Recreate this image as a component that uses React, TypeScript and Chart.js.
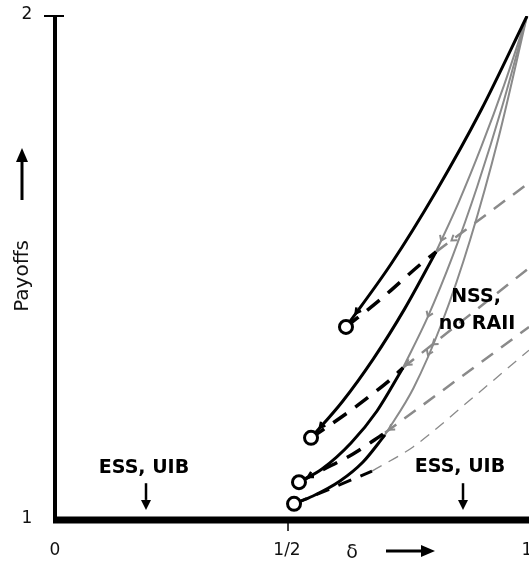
import React, { useEffect, useRef } from 'react';
import { Chart, registerables } from 'chart.js';

Chart.register(...registerables);

type Pt = { x: number; y: number };

// ---- axis ranges & ticks ----
const xMin = 0;
const xMax = 1.0042;
const yMin = 1;
const yMax = 2;
const xTickValues = [0, 0.5, 1];
const xTickLabels = ['0', '1/2', '1'];
const yTickValues = [1, 2];
const yTickLabels = ['1', '2'];
const xTitle = 'δ';
const yTitle = 'Payoffs';

// ---- open circles (starting points) ----
const circlePoints: Pt[] = [
  { x: 0.6165, y: 1.383 },
  { x: 0.5424, y: 1.163 },
  { x: 0.5169, y: 1.075 },
  { x: 0.5064, y: 1.032 },
];

// ---- black solid payoff curves ----
const solidA: Pt[] = [
  { x: 0.6165, y: 1.383 }, { x: 0.7119, y: 1.508 }, { x: 0.8072, y: 1.652 },
  { x: 0.9025, y: 1.813 }, { x: 1.0, y: 2.0 },
];
const solidB: Pt[] = [
  { x: 0.5424, y: 1.163 }, { x: 0.6086, y: 1.2346 }, { x: 0.6748, y: 1.3202 },
  { x: 0.741, y: 1.4194 }, { x: 0.8072, y: 1.532 },
];
const solidC: Pt[] = [
  { x: 0.5169, y: 1.075 }, { x: 0.5657, y: 1.1012 }, { x: 0.6271, y: 1.1528 },
  { x: 0.6822, y: 1.2163 }, { x: 0.7373, y: 1.302 },
];
const solidD: Pt[] = [
  { x: 0.5064, y: 1.032 }, { x: 0.5466, y: 1.0476 }, { x: 0.6038, y: 1.0774 },
  { x: 0.6525, y: 1.1151 }, { x: 0.6992, y: 1.169 },
];

// ---- grey solid continuations ----
const greyB: Pt[] = [
  { x: 0.8072, y: 1.532 }, { x: 0.8554, y: 1.6308 }, { x: 0.9036, y: 1.7416 },
  { x: 0.9518, y: 1.8639 }, { x: 1.0, y: 2.0 },
];
const greyC: Pt[] = [
  { x: 0.7373, y: 1.302 }, { x: 0.7898, y: 1.403 }, { x: 0.8424, y: 1.5234 },
  { x: 0.8949, y: 1.6627 }, { x: 0.9475, y: 1.8208 }, { x: 1.0, y: 2.0 },
];
const greyD: Pt[] = [
  { x: 0.6992, y: 1.169 }, { x: 0.7593, y: 1.2615 }, { x: 0.8195, y: 1.3909 },
  { x: 0.8797, y: 1.5567 }, { x: 0.9398, y: 1.7591 }, { x: 1.0, y: 2.0 },
];

// ---- black dashed lines ----
const dashA: Pt[] = [
  { x: 0.6165, y: 1.383 }, { x: 0.6886, y: 1.437 }, { x: 0.7775, y: 1.51 },
  { x: 0.8072, y: 1.532 },
];
const dashB: Pt[] = [
  { x: 0.5424, y: 1.163 }, { x: 0.6186, y: 1.212 }, { x: 0.678, y: 1.254 },
  { x: 0.7097, y: 1.278 }, { x: 0.7373, y: 1.302 },
];
const dashC: Pt[] = [
  { x: 0.5169, y: 1.075 }, { x: 0.5614, y: 1.097 }, { x: 0.6314, y: 1.131 },
  { x: 0.6992, y: 1.173 },
];
const dashD: Pt[] = [
  { x: 0.5064, y: 1.032 }, { x: 0.5784, y: 1.06 }, { x: 0.6716, y: 1.097 },
];

// ---- grey dashed continuations ----
const greyDashA: Pt[] = [{ x: 0.8072, y: 1.532 }, { x: 1.0042, y: 1.669 }];
const greyDashB: Pt[] = [{ x: 0.7373, y: 1.302 }, { x: 1.0042, y: 1.5 }];
const greyDashC: Pt[] = [{ x: 0.6992, y: 1.173 }, { x: 1.0042, y: 1.383 }];
const greyDashD: Pt[] = [
  { x: 0.6716, y: 1.097 }, { x: 0.7585, y: 1.145 }, { x: 0.8792, y: 1.238 },
  { x: 1.0042, y: 1.337 },
];

// ---- direction arrowheads along curves (curve, x position) ----
const greyChevrons: { curve: Pt[]; at: number }[] = [
  { curve: greyDashA, at: 0.84 },
  { curve: greyB, at: 0.818 },
  { curve: greyDashB, at: 0.745 },
  { curve: greyDashB, at: 0.8 },
  { curve: greyC, at: 0.79 },
  { curve: greyD, at: 0.79 },
  { curve: greyDashC, at: 0.708 },
];
const blackChevrons: { curve: Pt[]; at: number }[] = [
  { curve: solidA, at: 0.637 },
  { curve: solidB, at: 0.561 },
  { curve: solidC, at: 0.536 },
];

// ---- annotations (data units) ----
const labelTexts = ['ESS, UIB', 'ESS, UIB', 'NSS,', 'no RAII'];
const labelX = [0.1886, 0.858, 0.892, 0.894];
const labelY = [1.103, 1.105, 1.442, 1.389];
const downArrowX = [0.1928, 0.8644];
const downArrowTop = 1.073;
const downArrowBottom = 1.02;

const BLACK = '#000000';
const GREY = '#8a8a8a';

function line(data: Pt[], color: string, width: number, dash: number[], order: number) {
  return {
    data,
    borderColor: color,
    backgroundColor: color,
    borderWidth: width,
    borderDash: dash,
    borderCapStyle: 'butt',
    showLine: true,
    pointRadius: 0,
    pointHoverRadius: 0,
    cubicInterpolationMode: 'monotone',
    fill: false,
    order,
  };
}

function arrow(ctx: CanvasRenderingContext2D, x1: number, y1: number, x2: number, y2: number, w: number, head: number, hw: number) {
  const ang = Math.atan2(y2 - y1, x2 - x1);
  const bx = x2 - Math.cos(ang) * head;
  const by = y2 - Math.sin(ang) * head;
  ctx.lineWidth = w;
  ctx.beginPath();
  ctx.moveTo(x1, y1);
  ctx.lineTo(bx, by);
  ctx.stroke();
  ctx.beginPath();
  ctx.moveTo(x2, y2);
  ctx.lineTo(bx + Math.sin(ang) * hw, by - Math.cos(ang) * hw);
  ctx.lineTo(bx - Math.sin(ang) * hw, by + Math.cos(ang) * hw);
  ctx.closePath();
  ctx.fill();
}

function chevron(ctx: CanvasRenderingContext2D, xs: any, ys: any, curve: Pt[], at: number, len: number, spread: number) {
  let i = 0;
  while (i < curve.length - 2 && curve[i + 1].x < at) i++;
  const a = curve[i];
  const b = curve[i + 1];
  const t = (at - a.x) / (b.x - a.x);
  const px = xs.getPixelForValue(at);
  const py = ys.getPixelForValue(a.y + t * (b.y - a.y));
  const dx = xs.getPixelForValue(a.x) - xs.getPixelForValue(b.x);
  const dy = ys.getPixelForValue(a.y) - ys.getPixelForValue(b.y);
  const ang = Math.atan2(dy, dx); // pointing toward the start of the curve
  ctx.beginPath();
  ctx.moveTo(px - Math.cos(ang - spread) * len, py - Math.sin(ang - spread) * len);
  ctx.lineTo(px, py);
  ctx.lineTo(px - Math.cos(ang + spread) * len, py - Math.sin(ang + spread) * len);
  ctx.stroke();
}

const decor = {
  id: 'decor',
  afterDatasetsDraw(chart: any) {
    const { ctx, chartArea, scales } = chart;
    const xs = scales.x;
    const ys = scales.y;
    const x0 = xs.getPixelForValue(0);
    const yb = ys.getPixelForValue(1);
    const yt = ys.getPixelForValue(2);
    ctx.save();
    ctx.lineCap = 'butt';

    // arrowheads on curves
    ctx.strokeStyle = GREY;
    ctx.lineWidth = 2;
    greyChevrons.forEach((c) => chevron(ctx, xs, ys, c.curve, c.at, 6, 0.6));
    ctx.strokeStyle = BLACK;
    ctx.lineWidth = 2.5;
    blackChevrons.forEach((c) => chevron(ctx, xs, ys, c.curve, c.at, 6, 0.5));

    ctx.strokeStyle = BLACK;
    ctx.fillStyle = BLACK;
    // y axis
    ctx.lineWidth = 4;
    ctx.beginPath();
    ctx.moveTo(x0, yt);
    ctx.lineTo(x0, yb);
    ctx.stroke();
    // top tick
    ctx.lineWidth = 2;
    ctx.beginPath();
    ctx.moveTo(x0 - 11, yt);
    ctx.lineTo(x0 + 9, yt);
    ctx.stroke();
    // 1/2 tick
    ctx.lineWidth = 1.5;
    const xh = xs.getPixelForValue(0.5) - 3;
    ctx.beginPath();
    ctx.moveTo(xh, yb);
    ctx.lineTo(xh, yb + 11);
    ctx.stroke();
    // x axis
    ctx.lineWidth = 7;
    ctx.beginPath();
    ctx.moveTo(x0 - 2, yb);
    ctx.lineTo(chartArea.right + 2, yb);
    ctx.stroke();

    // tick labels
    ctx.font = '17px "DejaVu Sans", Verdana, sans-serif';
    ctx.textAlign = 'center';
    ctx.textBaseline = 'middle';
    ctx.fillStyle = '#111';
    xTickValues.forEach((v, i) => {
      const px = i === 1 ? xs.getPixelForValue(v) - 4 : xs.getPixelForValue(v);
      ctx.fillText(xTickLabels[i], px, yb + 31);
    });
    yTickValues.forEach((v, i) => {
      ctx.fillText(yTickLabels[i], x0 - 28, ys.getPixelForValue(v) - 1);
    });

    // axis titles
    ctx.font = '19px "DejaVu Sans", Verdana, sans-serif';
    ctx.fillText(xTitle, 352, yb + 33);
    ctx.fillStyle = BLACK;
    arrow(ctx, 386, yb + 31, 435, yb + 31, 3, 14, 6);
    ctx.save();
    ctx.translate(23, 276);
    ctx.rotate(-Math.PI / 2);
    ctx.fillStyle = '#111';
    ctx.font = '20px "DejaVu Sans", Verdana, sans-serif';
    ctx.fillText(yTitle, 0, 0);
    ctx.restore();
    ctx.fillStyle = BLACK;
    arrow(ctx, 22, 200, 22, 148, 3, 14, 6);

    // annotation labels
    ctx.font = 'bold 19px "DejaVu Sans", Verdana, sans-serif';
    ctx.fillStyle = BLACK;
    labelTexts.forEach((t, i) => {
      ctx.fillText(t, xs.getPixelForValue(labelX[i]), ys.getPixelForValue(labelY[i]));
    });
    downArrowX.forEach((v) => {
      const px = xs.getPixelForValue(v);
      arrow(ctx, px, ys.getPixelForValue(downArrowTop), px, ys.getPixelForValue(downArrowBottom), 2.5, 10, 5);
    });
    ctx.restore();
  },
};

export default function App() {
  const ref = useRef<HTMLCanvasElement | null>(null);
  useEffect(() => {
    if (!ref.current) return;
    const chart = new Chart(ref.current, {
      type: 'scatter',
      data: {
        datasets: [
          {
            data: circlePoints,
            showLine: false,
            pointRadius: 6.5,
            pointHoverRadius: 6.5,
            pointBorderWidth: 3,
            pointBackgroundColor: '#ffffff',
            pointBorderColor: BLACK,
            order: 0,
          } as any,
          line(solidA, BLACK, 3, [], 1),
          line(solidB, BLACK, 3, [], 1),
          line(solidC, BLACK, 3, [], 1),
          line(solidD, BLACK, 3, [], 1),
          line(dashA, BLACK, 3.5, [16, 11], 1),
          line(dashB, BLACK, 3.5, [16, 11], 1),
          line(dashC, BLACK, 3.5, [16, 11], 1),
          line(dashD, BLACK, 3, [14, 10], 1),
          line(greyB, GREY, 2, [], 2),
          line(greyC, GREY, 2, [], 2),
          line(greyD, GREY, 2, [], 2),
          line(greyDashA, GREY, 2.5, [14, 10], 2),
          line(greyDashB, GREY, 2.5, [14, 10], 2),
          line(greyDashC, GREY, 2.5, [14, 10], 2),
          line(greyDashD, GREY, 1.3, [11, 8], 2),
        ] as any,
      },
      options: {
        animation: false,
        responsive: false,
        maintainAspectRatio: false,
        events: [],
        layout: { autoPadding: false, padding: { left: 55, right: 0, top: 16, bottom: 45 } },
        plugins: { legend: { display: false }, tooltip: { enabled: false } },
        scales: {
          x: { type: 'linear', min: xMin, max: xMax, display: false },
          y: { type: 'linear', min: yMin, max: yMax, display: false },
        },
      },
      plugins: [decor as any],
    });
    return () => chart.destroy();
  }, []);
  return (
    <div style={{ position: 'absolute', left: 0, top: 0, width: 529, height: 565, background: '#fff' }}>
      <canvas ref={ref} width={529} height={565} style={{ display: 'block' }} />
    </div>
  );
}
